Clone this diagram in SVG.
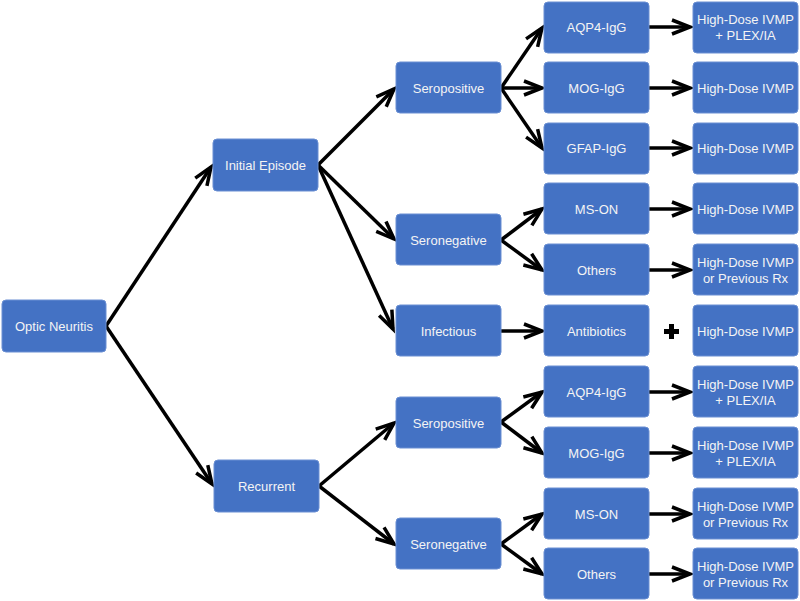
<svg xmlns="http://www.w3.org/2000/svg" width="800" height="601" viewBox="0 0 800 601">
<style>
.box{fill:#4472c4;stroke:#6a8fd3;stroke-width:1}
.t{font-family:"Liberation Sans",Arial,sans-serif;font-size:13px;fill:#f4f4f4;text-anchor:middle;dominant-baseline:central}
.c{stroke:#000;stroke-width:3.5;fill:none;marker-end:url(#ah)}
</style>
<defs>
<marker id="ah" markerUnits="userSpaceOnUse" markerWidth="24" markerHeight="20" refX="19" refY="8" orient="auto" overflow="visible">
<path d="M1,1 L19,8 L1,15" fill="none" stroke="#000" stroke-width="3.5" stroke-linejoin="miter" stroke-miterlimit="10"/>
</marker>
</defs>
<rect width="800" height="601" fill="#fff"/>
<g id="connectors">
<line class="c" x1="106" y1="326" x2="211" y2="167"/>
<line class="c" x1="106" y1="326" x2="212" y2="484"/>
<line class="c" x1="318" y1="165" x2="394" y2="89"/>
<line class="c" x1="318" y1="165" x2="394" y2="239"/>
<line class="c" x1="318" y1="165" x2="393" y2="329"/>
<line class="c" x1="319" y1="486" x2="394" y2="423"/>
<line class="c" x1="319" y1="486" x2="394" y2="544"/>
<line class="c" x1="501" y1="88" x2="542" y2="28"/>
<line class="c" x1="501" y1="88" x2="542" y2="88"/>
<line class="c" x1="501" y1="88" x2="542" y2="148"/>
<line class="c" x1="501" y1="240" x2="542" y2="209"/>
<line class="c" x1="501" y1="240" x2="542" y2="270"/>
<line class="c" x1="501" y1="331" x2="542" y2="331"/>
<line class="c" x1="501" y1="422" x2="542" y2="392"/>
<line class="c" x1="501" y1="422" x2="542" y2="453"/>
<line class="c" x1="501" y1="544" x2="542" y2="514"/>
<line class="c" x1="501" y1="544" x2="542" y2="574"/>
<line class="c" x1="649" y1="27" x2="690" y2="27"/>
<line class="c" x1="649" y1="88" x2="690" y2="88"/>
<line class="c" x1="649" y1="148" x2="690" y2="148"/>
<line class="c" x1="649" y1="209" x2="690" y2="209"/>
<line class="c" x1="649" y1="270" x2="690" y2="270"/>
<line class="c" x1="649" y1="392" x2="690" y2="392"/>
<line class="c" x1="649" y1="453" x2="690" y2="453"/>
<line class="c" x1="649" y1="514" x2="690" y2="514"/>
<line class="c" x1="649" y1="574" x2="690" y2="574"/>
</g>
<g id="plus"><path d="M669,324h5v5h5v5h-5v5h-5v-5h-5v-5h5z" fill="#000"/></g>
<g id="n-optic"><rect class="box" x="2" y="300" width="104" height="52" rx="4"/><text class="t" x="54" y="326">Optic Neuritis</text></g>
<g id="n-initial"><rect class="box" x="213" y="139" width="105" height="52" rx="4"/><text class="t" x="265.5" y="165">Initial Episode</text></g>
<g id="n-recurrent"><rect class="box" x="214" y="460" width="105" height="52" rx="4"/><text class="t" x="266.5" y="486">Recurrent</text></g>
<g id="n-seropos1"><rect class="box" x="396" y="62" width="105" height="51" rx="4"/><text class="t" x="448.5" y="88">Seropositive</text></g>
<g id="n-seroneg1"><rect class="box" x="396" y="214" width="105" height="51" rx="4"/><text class="t" x="448.5" y="240">Seronegative</text></g>
<g id="n-infectious"><rect class="box" x="396" y="305" width="105" height="51" rx="4"/><text class="t" x="448.5" y="331">Infectious</text></g>
<g id="n-seropos2"><rect class="box" x="396" y="397" width="105" height="51" rx="4"/><text class="t" x="448.5" y="423">Seropositive</text></g>
<g id="n-seroneg2"><rect class="box" x="396" y="518" width="105" height="51" rx="4"/><text class="t" x="448.5" y="544">Seronegative</text></g>
<g id="n-aqp4a"><rect class="box" x="544" y="2" width="105" height="51" rx="4"/><text class="t" x="596.5" y="27">AQP4-IgG</text></g>
<g id="n-moga"><rect class="box" x="544" y="62" width="105" height="51" rx="4"/><text class="t" x="596.5" y="88">MOG-IgG</text></g>
<g id="n-gfap"><rect class="box" x="544" y="123" width="105" height="51" rx="4"/><text class="t" x="596.5" y="148">GFAP-IgG</text></g>
<g id="n-msona"><rect class="box" x="544" y="183" width="105" height="51" rx="4"/><text class="t" x="596.5" y="209">MS-ON</text></g>
<g id="n-othersa"><rect class="box" x="544" y="244" width="105" height="51" rx="4"/><text class="t" x="596.5" y="270">Others</text></g>
<g id="n-antibiotics"><rect class="box" x="544" y="305" width="105" height="51" rx="4"/><text class="t" x="596.5" y="331">Antibiotics</text></g>
<g id="n-aqp4b"><rect class="box" x="544" y="366" width="105" height="51" rx="4"/><text class="t" x="596.5" y="392">AQP4-IgG</text></g>
<g id="n-mogb"><rect class="box" x="544" y="427" width="105" height="51" rx="4"/><text class="t" x="596.5" y="453">MOG-IgG</text></g>
<g id="n-msonb"><rect class="box" x="544" y="488" width="105" height="51" rx="4"/><text class="t" x="596.5" y="514">MS-ON</text></g>
<g id="n-othersb"><rect class="box" x="544" y="548" width="105" height="51" rx="4"/><text class="t" x="596.5" y="574">Others</text></g>
<g id="r1"><rect class="box" x="693" y="2" width="105" height="51" rx="4"/><text class="t" x="745.5" y="19">High-Dose IVMP</text><text class="t" x="745.5" y="35">+ PLEX/IA</text></g>
<g id="r2"><rect class="box" x="693" y="62" width="105" height="51" rx="4"/><text class="t" x="745.5" y="88">High-Dose IVMP</text></g>
<g id="r3"><rect class="box" x="693" y="123" width="105" height="51" rx="4"/><text class="t" x="745.5" y="148">High-Dose IVMP</text></g>
<g id="r4"><rect class="box" x="693" y="183" width="105" height="51" rx="4"/><text class="t" x="745.5" y="209">High-Dose IVMP</text></g>
<g id="r5"><rect class="box" x="693" y="244" width="105" height="51" rx="4"/><text class="t" x="745.5" y="262">High-Dose IVMP</text><text class="t" x="745.5" y="278">or Previous Rx</text></g>
<g id="r6"><rect class="box" x="693" y="305" width="105" height="51" rx="4"/><text class="t" x="745.5" y="331">High-Dose IVMP</text></g>
<g id="r7"><rect class="box" x="693" y="366" width="105" height="51" rx="4"/><text class="t" x="745.5" y="384">High-Dose IVMP</text><text class="t" x="745.5" y="400">+ PLEX/IA</text></g>
<g id="r8"><rect class="box" x="693" y="427" width="105" height="51" rx="4"/><text class="t" x="745.5" y="445">High-Dose IVMP</text><text class="t" x="745.5" y="461">+ PLEX/IA</text></g>
<g id="r9"><rect class="box" x="693" y="488" width="105" height="51" rx="4"/><text class="t" x="745.5" y="506">High-Dose IVMP</text><text class="t" x="745.5" y="522">or Previous Rx</text></g>
<g id="r10"><rect class="box" x="693" y="548" width="105" height="51" rx="4"/><text class="t" x="745.5" y="566">High-Dose IVMP</text><text class="t" x="745.5" y="582">or Previous Rx</text></g>
</svg>
